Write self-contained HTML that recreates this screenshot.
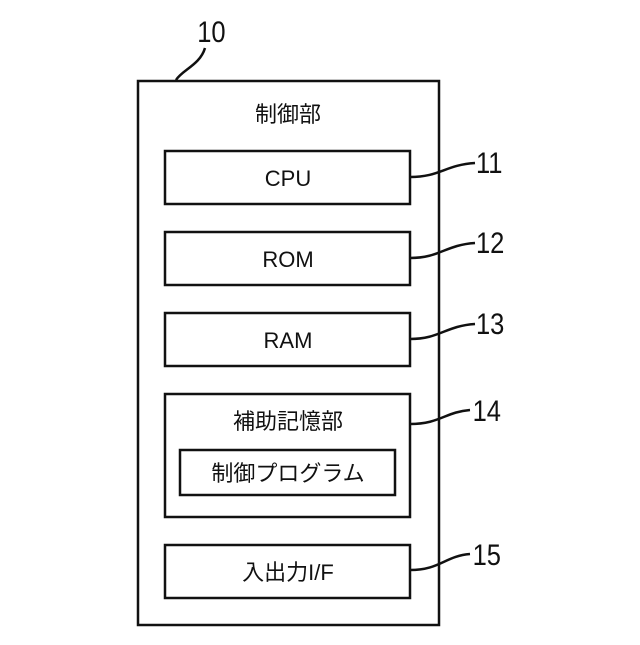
<!DOCTYPE html>
<html><head><meta charset="utf-8"><style>
body{margin:0;background:#fff;}
svg text{font-family:"Liberation Sans","Noto Sans CJK JP",sans-serif;fill:#111;}
</style></head><body>
<svg width="640" height="640" viewBox="0 0 640 640" xmlns="http://www.w3.org/2000/svg">
<g fill="none" stroke="#111" stroke-width="2.5">
<rect x="138" y="81" width="301" height="544"/>
<rect x="165" y="151" width="245" height="53"/>
<rect x="165" y="232" width="245" height="53"/>
<rect x="165" y="313" width="245" height="53"/>
<rect x="165" y="394" width="245" height="123"/>
<rect x="180" y="450" width="215" height="45"/>
<rect x="165" y="545" width="245" height="53"/>
<path d="M176 80 C182 70 200 65 205 48"/>
<path d="M410 177 C440 177 445 165 475 163"/>
<path d="M410 258 C440 258 445 245 475 243"/>
<path d="M410 339 C440 339 445 326 475 324"/>
<path d="M410 424 C440 424 445 412 470 410"/>
<path d="M410 570 C440 570 445 556 470 554"/>
</g>
<g font-size="30" transform="scale(0.85,1)">
<text x="232" y="42">10</text>
<text x="560" y="173">11</text>
<text x="560" y="253">12</text>
<text x="560" y="334">13</text>
<text x="556" y="421">14</text>
<text x="556" y="565">15</text>
</g>
<g font-size="22" text-anchor="middle">
<text x="288" y="122">制御部</text>
<text x="288" y="186">CPU</text>
<text x="288" y="267">ROM</text>
<text x="288" y="348">RAM</text>
<text x="288" y="429">補助記憶部</text>
<text x="288" y="481">制御プログラム</text>
<text x="288" y="580">入出力I/F</text>
</g>
</svg>
</body></html>
